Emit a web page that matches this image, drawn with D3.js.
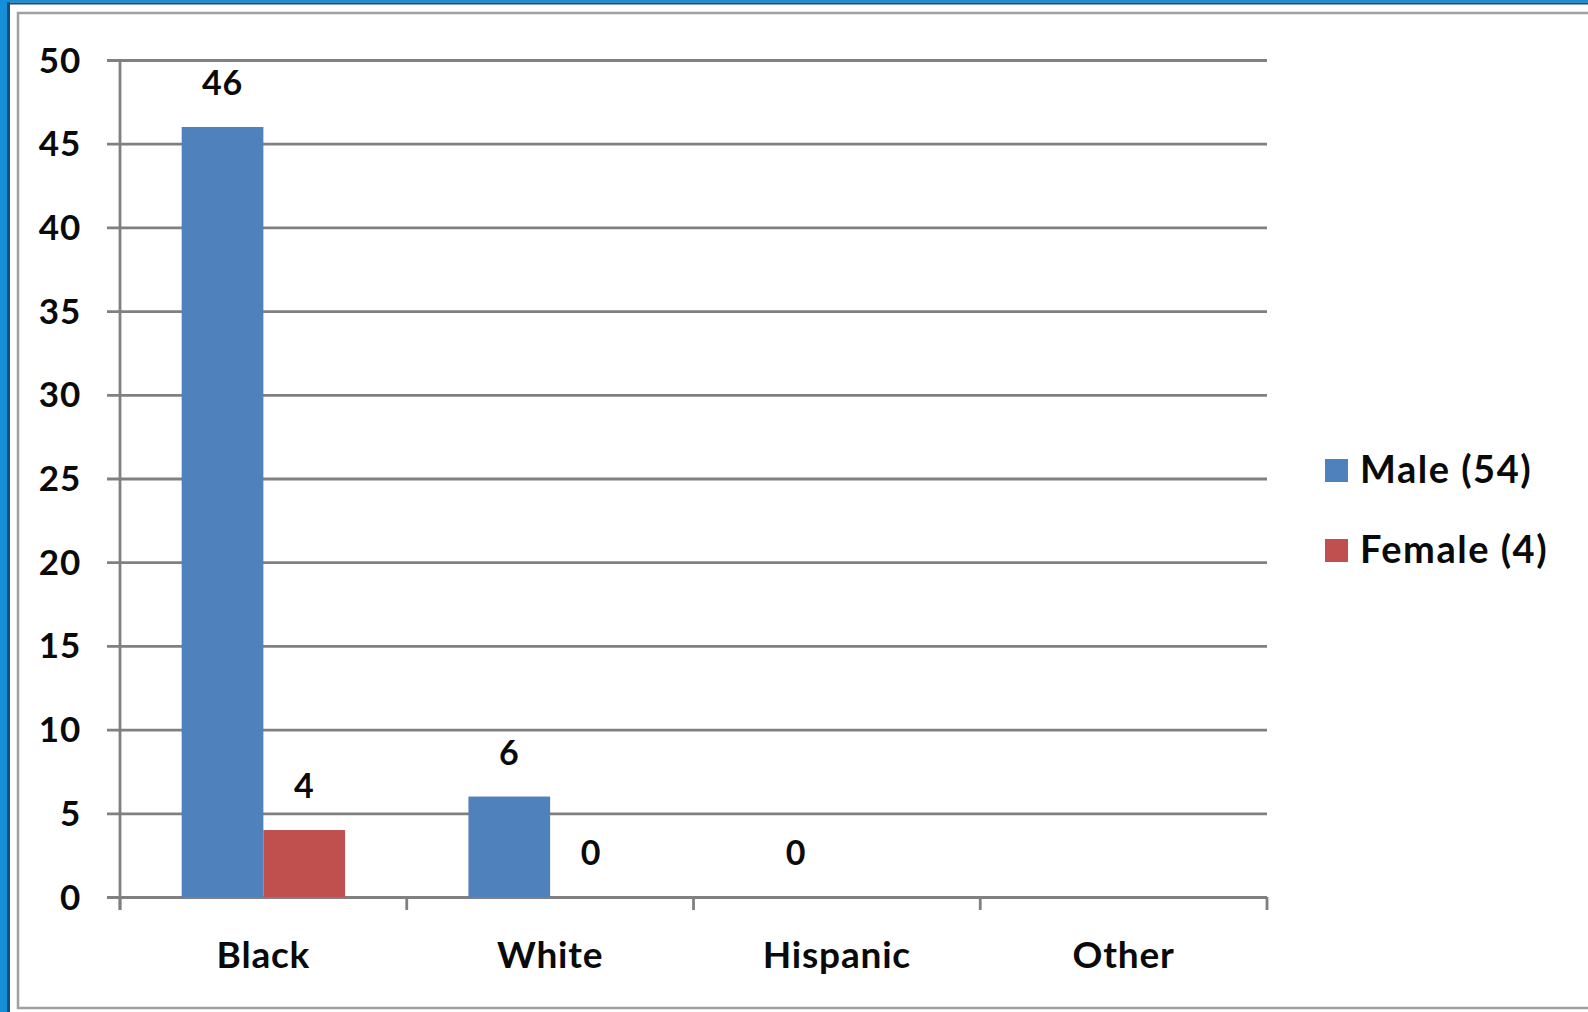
<!DOCTYPE html>
<html>
<head>
<meta charset="utf-8">
<script src="https://cdn.jsdelivr.net/npm/d3@7"></script>
<style>
  html, body { margin: 0; padding: 0; background: #ffffff; }
  svg { display: block; }
  text { font-family: Lato, "Open Sans", sans-serif; font-weight: 700; fill: #0a0a0a; letter-spacing: 0.8px; }
</style>
</head>
<body>
<svg id="chart" width="1588" height="1012"></svg>
<script>
// Counts by race, split by sex
const categories = ["Black", "White", "Hispanic", "Other"];
const seriesNames = ["Male (54)", "Female (4)"];
const maleValues = [46, 6, 0, null];
const femaleValues = [4, 0, null, null];
const yTicks = [0, 5, 10, 15, 20, 25, 30, 35, 40, 45, 50];
const seriesColors = ["#4F81BD", "#C0504D"];

const svg = d3.select("#chart");
const W = 1588, H = 1012;

// Frame: blue window edge and grey chart border
svg.append("rect").attr("x", 0).attr("y", 0).attr("width", W).attr("height", H).attr("fill", "#ffffff");
svg.append("rect").attr("x", 0).attr("y", 0).attr("width", 8).attr("height", H).attr("fill", "#1590d8");
svg.append("rect").attr("x", 7).attr("y", 0).attr("width", 3).attr("height", H).attr("fill", "#0b4f86");
svg.append("rect").attr("x", 0).attr("y", 0).attr("width", W).attr("height", 2.5).attr("fill", "#1590d8");
svg.append("rect").attr("x", 7).attr("y", 2.5).attr("width", W).attr("height", 2).attr("fill", "#0b4f86");
svg.append("rect").attr("x", 18).attr("y", 13).attr("width", W).attr("height", 995)
  .attr("fill", "none").attr("stroke", "#a0a0a0").attr("stroke-width", 2.5);

const plotLeft = 120, plotRight = 1267, plotTop = 60, plotBottom = 897;

const x = d3.scaleBand().domain(categories).range([plotLeft, plotRight]).paddingInner(0).paddingOuter(0);
const x1 = d3.scaleBand().domain(seriesNames).range([0, x.bandwidth()]).paddingInner(0).paddingOuter(0.755);
const y = d3.scaleLinear().domain([0, 50]).range([plotBottom, plotTop]);

const gridColor = "#808080";

// Horizontal gridlines with outward tick stubs
const yAxis = svg.append("g").attr("transform", `translate(${plotLeft},0)`)
  .call(d3.axisLeft(y).tickValues(yTicks).tickSizeInner(-(plotRight - plotLeft)).tickSizeOuter(0).tickPadding(0).tickFormat(""));
yAxis.select(".domain").remove();
yAxis.selectAll(".tick line").attr("stroke", gridColor).attr("stroke-width", 2.8).attr("x1", -13);

// Y tick labels
svg.append("g").selectAll("text").data(yTicks).join("text")
  .attr("x", 81).attr("y", d => y(d) + 12.5)
  .attr("text-anchor", "end").attr("font-size", 35)
  .text(d => d);

// Vertical axis line
svg.append("line").attr("x1", plotLeft).attr("x2", plotLeft).attr("y1", plotTop).attr("y2", plotBottom + 13)
  .attr("stroke", gridColor).attr("stroke-width", 2.8);

// Category boundary ticks on the baseline
const boundaries = categories.map(c => x(c)).concat([x.range()[1]]);
svg.append("g").selectAll("line").data(boundaries).join("line")
  .attr("x1", d => d).attr("x2", d => d).attr("y1", plotBottom).attr("y2", plotBottom + 13)
  .attr("stroke", gridColor).attr("stroke-width", 2.8);

// Category labels
svg.append("g").selectAll("text").data(categories).join("text")
  .attr("x", d => x(d) + x.bandwidth() / 2).attr("y", 968)
  .attr("text-anchor", "middle").attr("font-size", 37)
  .text(d => d);

// Bars
const rows = [];
categories.forEach((c, i) => {
  rows.push({ cat: c, series: seriesNames[0], value: maleValues[i], color: seriesColors[0] });
  rows.push({ cat: c, series: seriesNames[1], value: femaleValues[i], color: seriesColors[1] });
});
const present = rows.filter(r => r.value !== null);

svg.append("g").selectAll("rect").data(present.filter(r => r.value > 0)).join("rect")
  .attr("x", r => x(r.cat) + x1(r.series))
  .attr("y", r => y(r.value))
  .attr("width", x1.bandwidth())
  .attr("height", r => y(0) - y(r.value))
  .attr("fill", r => r.color);

// Value labels
svg.append("g").selectAll("text").data(present).join("text")
  .attr("x", r => x(r.cat) + x1(r.series) + x1.bandwidth() / 2)
  .attr("y", r => y(r.value) - 32)
  .attr("text-anchor", "middle").attr("font-size", 34)
  .text(r => r.value);

// Legend
const legend = svg.append("g").selectAll("g").data(seriesNames).join("g")
  .attr("transform", (d, i) => `translate(1325,${459 + i * 80})`);
legend.append("rect").attr("width", 23).attr("height", 23).attr("fill", (d, i) => seriesColors[i]);
legend.append("text").attr("x", 35).attr("y", 24).attr("font-size", 38).style("letter-spacing", "1.5px").text(d => d);
</script>
</body>
</html>
